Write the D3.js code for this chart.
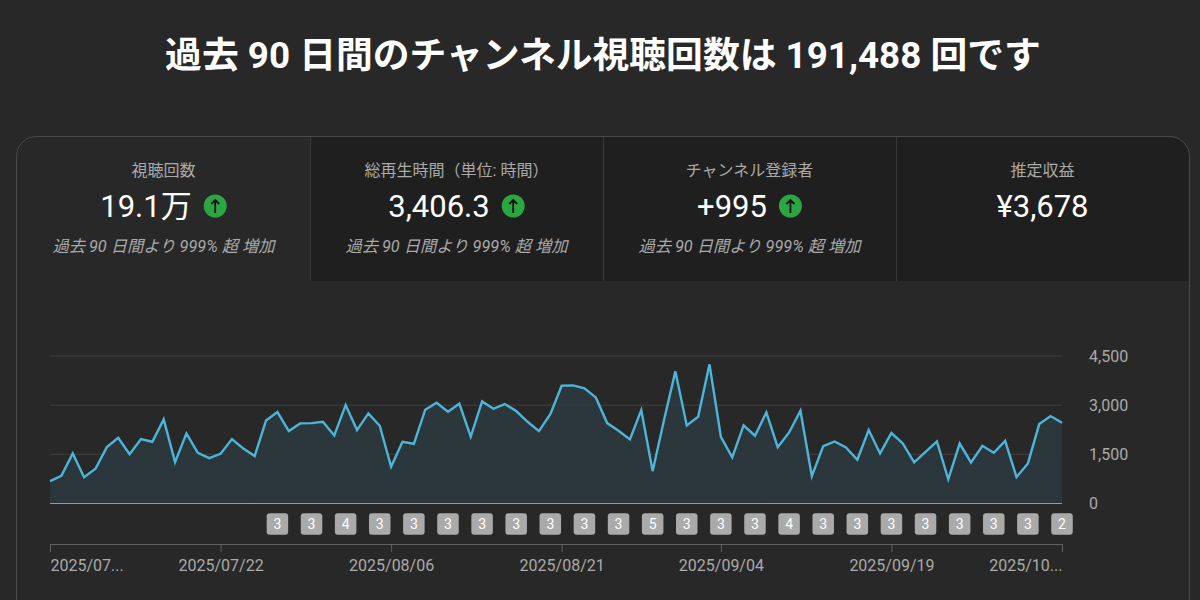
<!DOCTYPE html>
<html lang="ja">
<head>
<meta charset="utf-8">
<script src="https://cdn.jsdelivr.net/npm/d3@7"></script>
<style>
  html, body { margin: 0; padding: 0; background: #282828; overflow: hidden; }
  svg { display: block; }
  text { font-family: Roboto, "Noto Sans CJK JP", sans-serif; }
</style>
</head>
<body>
<svg id="chart" width="1200" height="600"></svg>
<script>
// daily views
var views = [
  682, 845, 1527, 804, 1059, 1720, 2005, 1507, 1965, 1883,
  2565, 1262, 2138, 1547, 1384, 1517, 1965, 1680, 1446, 2535,
  2789, 2209, 2443, 2453, 2494, 2077, 3003, 2240, 2749, 2372,
  1120, 1883, 1822, 2861, 3074, 2800, 3044, 2036, 3115, 2891,
  3034, 2820, 2494, 2209, 2728, 3594, 3604, 3512, 3237, 2453,
  2219, 1955, 2850, 987, 2545, 4031, 2382, 2647, 4245, 2036,
  1405, 2382, 2067, 2780, 1720, 2168, 2830, 835, 1751, 1893,
  1710, 1334, 2240, 1527, 2150, 1832, 1252, 1578, 1893, 740,
  1830, 1252, 1761, 1547, 1910, 804, 1222, 2423, 2667, 2464
];
var yTicks = [0, 1500, 3000, 4500];
var tickDays = [0, 15, 30, 45, 59, 74, 89];
var tickLabels = ['2025/07...', '2025/07/22', '2025/08/06', '2025/08/21', '2025/09/04', '2025/09/19', '2025/10...'];
var badgeDays = [20, 23, 26, 29, 32, 35, 38, 41, 44, 47, 50, 53, 56, 59, 62, 65, 68, 71, 74, 77, 80, 83, 86, 89];
var badgeCounts = [3, 3, 4, 3, 3, 3, 3, 3, 3, 3, 3, 5, 3, 3, 3, 4, 3, 3, 3, 3, 3, 3, 3, 2];

var tabLabels = ['視聴回数', '総再生時間（単位: 時間）', 'チャンネル登録者', '推定収益'];
var tabValues = ['19.1万', '3,406.3', '+995', '¥3,678'];
var tabNotes = ['過去 90 日間より 999% 超 増加', '過去 90 日間より 999% 超 増加', '過去 90 日間より 999% 超 増加', ''];
var title = '過去 90 日間のチャンネル視聴回数は 191,488 回です';

var svg = d3.select('#chart');
var defs = svg.append('defs');

defs.append('clipPath').attr('id', 'card-clip')
  .append('rect')
  .attr('x', 16.5).attr('y', 136.5)
  .attr('width', 1173).attr('height', 600)
  .attr('rx', 20);

var fade = defs.append('linearGradient').attr('id', 'area-fade')
  .attr('x1', 0).attr('x2', 0).attr('y1', 0).attr('y2', 1);
fade.append('stop').attr('offset', '0%').attr('stop-color', '#2d3b41').attr('stop-opacity', 0.8);
fade.append('stop').attr('offset', '100%').attr('stop-color', '#2a363b').attr('stop-opacity', 1);

svg.append('text')
  .attr('x', 603).attr('y', 55)
  .attr('text-anchor', 'middle')
  .attr('dominant-baseline', 'central')
  .attr('font-size', 36.8)
  .attr('font-weight', 700)
  .attr('fill', '#ffffff')
  .text(title);

// tabs
var tabWidth = 293;
var tabLeft = 17;
var tabs = svg.append('g');

tabs.append('g').attr('clip-path', 'url(#card-clip)')
  .selectAll('rect')
  .data([1, 2, 3])
  .enter().append('rect')
  .attr('x', function (d) { return tabLeft + d * tabWidth; })
  .attr('y', 137)
  .attr('width', tabWidth)
  .attr('height', 144)
  .attr('fill', '#1f1f1f');

tabs.selectAll('line')
  .data([1, 2, 3])
  .enter().append('line')
  .attr('x1', function (d) { return tabLeft + d * tabWidth + 0.5; })
  .attr('x2', function (d) { return tabLeft + d * tabWidth + 0.5; })
  .attr('y1', 137)
  .attr('y2', 281)
  .attr('stroke', '#3a3a3a');

svg.append('rect')
  .attr('x', 16.5).attr('y', 136.5)
  .attr('width', 1173).attr('height', 600)
  .attr('rx', 20)
  .attr('fill', 'none')
  .attr('stroke', '#4a4a4a');

tabLabels.forEach(function (label, i) {
  var cx = tabLeft + tabWidth * (i + 0.5);
  var g = tabs.append('g');

  g.append('text')
    .attr('x', cx).attr('y', 170)
    .attr('text-anchor', 'middle')
    .attr('dominant-baseline', 'central')
    .attr('font-size', 16)
    .attr('fill', '#aaaaaa')
    .text(label);

  var value = g.append('text')
    .attr('y', 206)
    .attr('dominant-baseline', 'central')
    .attr('font-size', 31)
    .attr('fill', '#ffffff')
    .text(tabValues[i]);

  if (!tabNotes[i]) {
    value.attr('x', cx).attr('text-anchor', 'middle');
    return;
  }

  // value and arrow are centred together
  var w = value.node().getComputedTextLength();
  var iconR = 11.5;
  var gap = 12;
  var left = cx - (w + gap + iconR * 2) / 2;
  value.attr('x', left);

  var ix = left + w + gap + iconR;
  g.append('circle').attr('cx', ix).attr('cy', 206).attr('r', iconR).attr('fill', '#2ba640');
  g.append('path')
    .attr('d', d3.line()([[ix, 213], [ix, 200]]) + d3.line()([[ix - 4, 204], [ix, 200], [ix + 4, 204]]))
    .attr('fill', 'none')
    .attr('stroke', '#111111')
    .attr('stroke-width', 1.8);

  g.append('text')
    .attr('x', cx).attr('y', 246)
    .attr('text-anchor', 'middle')
    .attr('dominant-baseline', 'central')
    .attr('font-size', 16.3)
    .attr('font-style', 'italic')
    .attr('fill', '#aaaaaa')
    .text(tabNotes[i]);
});

// scales
var x = d3.scaleLinear().domain([0, 89]).range([50, 1062]);
var y = d3.scaleLinear().domain([0, 4500]).range([503.5, 356]);

// grid and value axis
var yAxis = svg.append('g')
  .attr('transform', 'translate(1062,0)')
  .call(d3.axisRight(y).tickValues(yTicks).tickSize(0).tickPadding(27).tickFormat(d3.format(',')));
yAxis.select('.domain').remove();
yAxis.selectAll('text')
  .attr('font-family', 'Roboto, sans-serif')
  .attr('font-size', 16)
  .attr('fill', '#aaaaaa');

svg.append('g').selectAll('line')
  .data(yTicks.filter(function (d) { return d > 0; }))
  .enter().append('line')
  .attr('x1', 50).attr('x2', 1062)
  .attr('y1', function (d) { return y(d); })
  .attr('y2', function (d) { return y(d); })
  .attr('stroke', '#414141');

var area = d3.area()
  .x(function (d, i) { return x(i); })
  .y0(y(0))
  .y1(function (d) { return y(d); });

var line = d3.line()
  .x(function (d, i) { return x(i); })
  .y(function (d) { return y(d); });

svg.append('path').datum(views)
  .attr('d', area)
  .attr('fill', 'url(#area-fade)');

svg.append('line')
  .attr('x1', 50).attr('x2', 1062)
  .attr('y1', y(0)).attr('y2', y(0))
  .attr('stroke', '#9a9a9a');

svg.append('path').datum(views)
  .attr('d', line)
  .attr('fill', 'none')
  .attr('stroke', '#4db5d8')
  .attr('stroke-width', 2.4)
  .attr('stroke-linejoin', 'miter');

// video badges
var badges = svg.append('g').selectAll('g')
  .data(badgeCounts)
  .enter().append('g')
  .attr('transform', function (d, i) { return 'translate(' + x(badgeDays[i]) + ',524)'; });

badges.append('rect')
  .attr('x', -10.75).attr('y', -10.75)
  .attr('width', 21.5).attr('height', 21.5)
  .attr('rx', 3)
  .attr('fill', '#aaaaaa');

badges.append('text')
  .attr('text-anchor', 'middle')
  .attr('dominant-baseline', 'central')
  .attr('font-size', 14)
  .attr('fill', '#ffffff')
  .text(function (d) { return d; });

// date axis
var xAxis = svg.append('g')
  .attr('transform', 'translate(0,544)')
  .call(d3.axisBottom(x)
    .tickValues(tickDays)
    .tickSizeInner(8)
    .tickSizeOuter(0)
    .tickPadding(8)
    .tickFormat(function (d, i) { return tickLabels[i]; }));

xAxis.select('.domain').attr('stroke', '#606060').attr('stroke-width', 1.2);
xAxis.selectAll('line').attr('stroke', '#606060');
xAxis.selectAll('text')
  .attr('font-family', 'Roboto, sans-serif')
  .attr('font-size', 16)
  .attr('fill', '#aaaaaa')
  .attr('text-anchor', function (d, i) {
    if (i === 0) return 'start';
    return i === tickDays.length - 1 ? 'end' : 'middle';
  });
</script>
</body>
</html>
